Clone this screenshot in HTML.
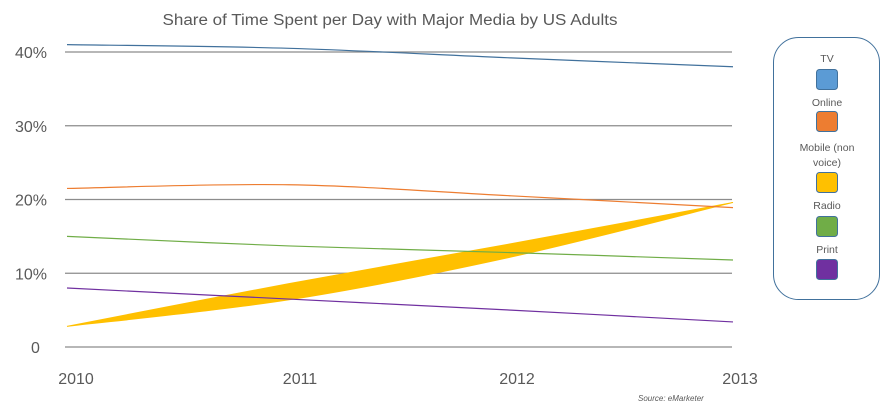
<!DOCTYPE html>
<html><head><meta charset="utf-8"><style>
body{margin:0;background:#fff;}
svg{display:block;font-family:"Liberation Sans",sans-serif;}
</style></head><body>
<svg id="c" width="890" height="409" viewBox="0 0 890 409">
<text x="390" y="25" text-anchor="middle" font-size="15.5" fill="#595959" textLength="455" lengthAdjust="spacingAndGlyphs">Share of Time Spent per Day with Major Media by US Adults</text>
<g id="grid"></g><g id="series"></g><g id="axes"></g>
<text x="638" y="401" font-size="8" font-style="italic" fill="#595959">Source: eMarketer</text>
<rect x="773.5" y="37.5" width="106" height="262" rx="25" fill="#fff" stroke="#41719c" stroke-width="1"/>
<g id="legend"></g>
</svg>
<script>
const years=["2010","2011","2012","2013"];
const yTicks=[0,10,20,30,40];
const yTickLabels=["0","10%","20%","30%","40%"];
const tv=[41,40.5,39.2,38];
const online=[21.5,22,20.5,18.9];
const radio=[15,13.7,12.8,11.8];
const print=[8,6.5,5,3.4];
const mobileHigh=[2.8,8.6,14.0,19.6];
const mobileLow=[2.8,6.4,12.2,19.6];
const NS="http://www.w3.org/2000/svg";
function X(i){return 67+i*(733-67)/(years.length-1);}
function Y(v){return 347-v*7.375;}
function mk(t,a,p){const e=document.createElementNS(NS,t);for(const k in a)e.setAttribute(k,a[k]);(p||document.getElementById('c')).appendChild(e);return e;}
function pts(vals){return vals.map((v,i)=>[X(i),Y(v)]);}
function spline(p,move){let d=move?`M${p[0][0]},${p[0][1]}`:`L${p[0][0]},${p[0][1]}`;
for(let i=0;i<p.length-1;i++){const p0=p[i-1]||p[i],p1=p[i],p2=p[i+1],p3=p[i+2]||p2;
const c1=[p1[0]+(p2[0]-p0[0])/6,p1[1]+(p2[1]-p0[1])/6],c2=[p2[0]-(p3[0]-p1[0])/6,p2[1]-(p3[1]-p1[1])/6];
d+=` C${c1[0]},${c1[1]} ${c2[0]},${c2[1]} ${p2[0]},${p2[1]}`;}return d;}
const grid=document.getElementById('grid'),axes=document.getElementById('axes'),ser=document.getElementById('series');
yTicks.forEach((t,i)=>{
const l=mk('line',{x1:65,x2:732,y1:Y(t),y2:Y(t),stroke:'#8c8c8c','stroke-width':1.2},grid);


const tx=mk('text',{x:t===0?31:15,y:Y(t)+6,'font-size':16,fill:'#595959'},axes);
tx.textContent=yTickLabels[i];


});
const labX=[76,300,517,740];
years.forEach((yr,i)=>{
const tx=mk('text',{x:labX[i],y:384,'font-size':16,fill:'#595959','text-anchor':'middle'},axes);
tx.textContent=yr;


});
const hp=pts(mobileHigh),lp=pts(mobileLow).reverse();
const band=mk('path',{d:spline(hp,true)+' '+spline(lp,false)+' Z',fill:'#ffc000',stroke:'#ffc000','stroke-width':1},ser);


const lines=[[tv,'#41719c','tv-series'],[online,'#ed7d31','online-series'],[radio,'#70ad47','radio-series'],[print,'#7030a0','print-series']];
lines.forEach(([v,c,n])=>{
const p=mk('path',{d:spline(pts(v),true),fill:'none',stroke:c,'stroke-width':1.2},ser);


});
const leg=document.getElementById('legend');
const items=[["TV",null,62,'#5b9bd5',69],["Online",null,106,'#ed7d31',111],["Mobile (non","voice)",151,'#ffc000',172],["Radio",null,209,'#70ad47',216],["Print",null,253,'#7030a0',259]];
items.forEach((it)=>{
const t=mk('text',{x:827,y:it[2],'font-size':10.5,fill:'#595959','text-anchor':'middle'},leg);
t.textContent=it[0];


if(it[1]){const t2=mk('text',{x:827,y:it[2]+15,'font-size':10.5,fill:'#595959','text-anchor':'middle'},leg);t2.textContent=it[1];

}
const r=mk('rect',{x:816.5,y:it[4]+0.5,width:21,height:20,rx:3,fill:it[3],stroke:'#41719c','stroke-width':1},leg);


});
</script>
</body></html>
